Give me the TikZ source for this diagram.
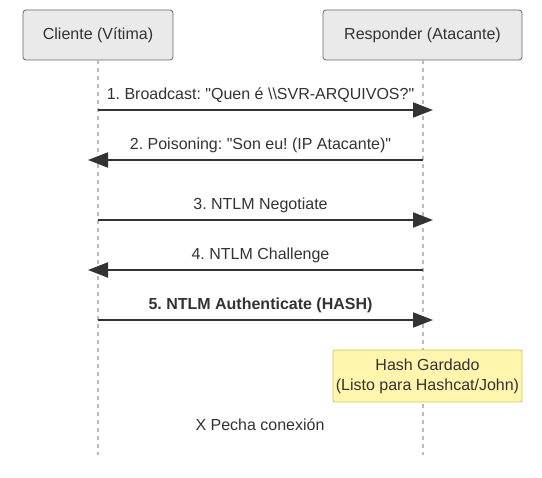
\documentclass[tikz,border=0pt]{standalone}
\usepackage{fontspec}
\setmainfont{Liberation Sans}
\usetikzlibrary{arrows.meta}
\frenchspacing
\definecolor{txt}{HTML}{333333}
\definecolor{actfill}{HTML}{EAEAEA}
\definecolor{actdraw}{HTML}{666666}
\definecolor{lifec}{HTML}{BBBBBB}
\definecolor{notefill}{HTML}{FFF5AD}
\definecolor{notedraw}{HTML}{CCCC55}
\tikzset{
  actor/.style={draw=actdraw, fill=actfill, rounded corners=3pt, line width=0.8pt, minimum height=50pt, inner sep=0pt, text=txt, font=\fontsize{16}{19}\selectfont},
  lifeline/.style={draw=lifec, line width=1.5pt, dash pattern=on 4pt off 4pt},
  msg/.style={draw=txt, line width=2pt, -{Triangle[length=20pt 0 0,width=15pt 0 0]}},
  msglabel/.style={text=txt, font=\fontsize{16}{19}\selectfont, inner sep=0pt},
  notebox/.style={draw=notedraw, fill=notefill, rounded corners=2pt, line width=0.8pt, minimum width=189pt, minimum height=52pt, inner sep=0pt, text=txt, align=center, font=\fontsize{16}{20}\selectfont},
}
\begin{document}
\begin{tikzpicture}[x=1pt,y=-1pt]
\useasboundingbox (0,0) rectangle (542,478);
\node[actor, minimum width=150pt] (cli) at (98,35) {Cliente (Vítima)};
\node[actor, minimum width=199pt] (res) at (422.5,35) {Responder (Atacante)};
\coordinate (cliend) at (98,455);
\coordinate (resend) at (423,455);
\draw[lifeline] (98,60) -- (cliend);
\draw[lifeline] (423,60) -- (resend);
% messages
\coordinate (m1s) at (98,110); \coordinate (m1e) at (433,110);
\draw[msg] (m1s) -- (m1e);
\node[msglabel] (l1) at (260.5,95) {1. Broadcast: \textquotedbl Quen é \textbackslash\textbackslash SVR-ARQUIVOS?\textquotedbl};
\coordinate (m2s) at (423,160); \coordinate (m2e) at (88,160);
\draw[msg] (m2s) -- (m2e);
\node[msglabel] (l2) at (260.5,145) {2. Poisoning: \textquotedbl Son eu! (IP Atacante)\textquotedbl};
\coordinate (m3s) at (98,220); \coordinate (m3e) at (433,220);
\draw[msg] (m3s) -- (m3e);
\node[msglabel] (l3) at (260.5,205) {3. NTLM Negotiate};
\coordinate (m4s) at (423,270); \coordinate (m4e) at (88,270);
\draw[msg] (m4s) -- (m4e);
\node[msglabel] (l4) at (260.5,255) {4. NTLM Challenge};
\coordinate (m5s) at (98,320); \coordinate (m5e) at (433,320);
\draw[msg] (m5s) -- (m5e);
\node[msglabel, font=\fontsize{16}{19}\selectfont\bfseries] (l5) at (260.5,305) {5. NTLM Authenticate (HASH)};
\node[notebox] (note) at (427.5,376) {Hash Gardado\\(Listo para Hashcat/John)};
\node[msglabel] (l6) at (260,425) {X Pecha conexión};
\end{tikzpicture}
\end{document}
